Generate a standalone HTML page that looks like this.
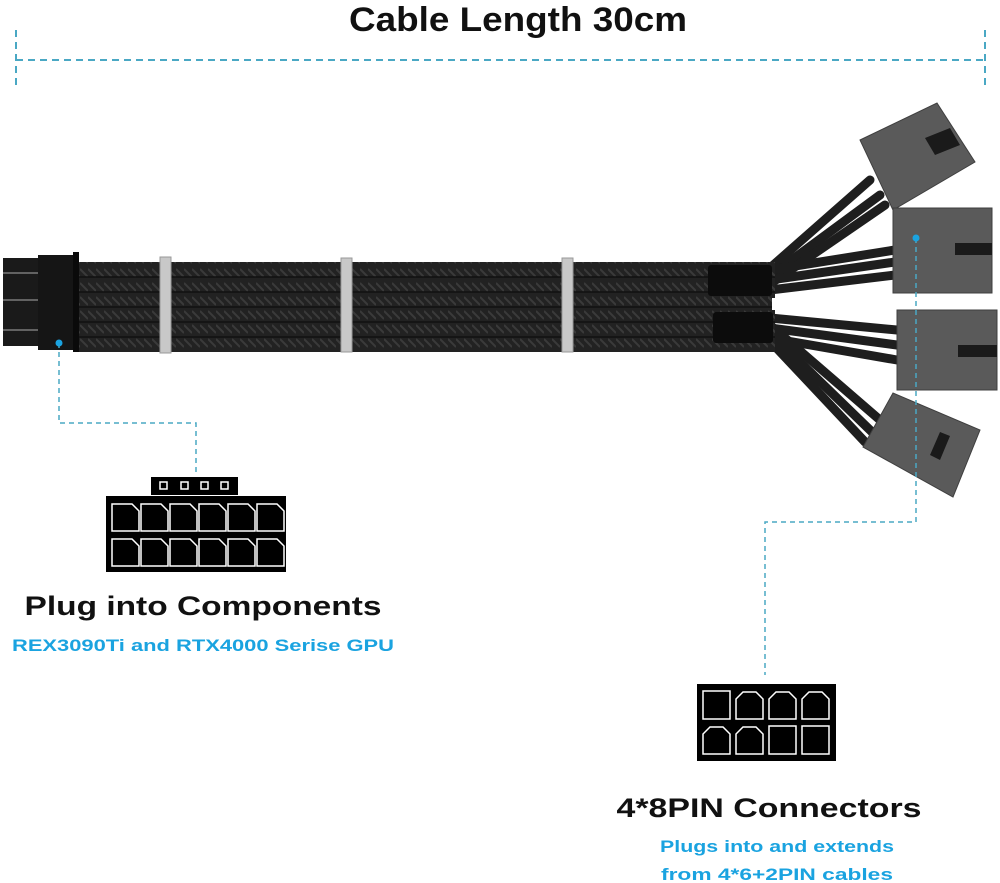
<!DOCTYPE html>
<html><head><meta charset="utf-8"><style>
html,body{margin:0;padding:0;background:#fff;}
svg{display:block}
</style></head><body>
<svg width="1000" height="883" viewBox="0 0 1000 883" xmlns="http://www.w3.org/2000/svg">
<defs>
<pattern id="braid" width="8" height="14" patternUnits="userSpaceOnUse">
<rect width="8" height="14" fill="#222"/>
<path d="M0 3 L8 11" stroke="#3a3a3a" stroke-width="2"/>
</pattern>
</defs>
<text x="518" y="31" text-anchor="middle" font-family="Liberation Sans, sans-serif" font-weight="bold" font-size="34" textLength="338" lengthAdjust="spacingAndGlyphs" fill="#111">Cable Length 30cm</text>
<g stroke="#4aa8c4" stroke-width="2" stroke-dasharray="7,5" fill="none">
<line x1="16" y1="60" x2="985" y2="60"/>
<line x1="16" y1="30" x2="16" y2="88"/>
<line x1="985" y1="30" x2="985" y2="88"/>
</g>
<g stroke="#1e1e1e" stroke-width="9" stroke-linecap="round" fill="none">
<path d="M770 268 L870 180"/><path d="M770 276 L880 195"/><path d="M770 284 L885 205"/>
<path d="M770 270 L895 250"/><path d="M770 280 L895 262"/><path d="M770 290 L895 275"/>
<path d="M770 318 L897 330"/><path d="M770 328 L897 345"/><path d="M770 338 L897 360"/>
<path d="M770 325 L880 420"/><path d="M770 333 L872 432"/><path d="M770 341 L865 442"/>
</g>
<rect x="75" y="262" width="700" height="90" fill="url(#braid)"/>
<g stroke="#111" stroke-width="1.5">
<line x1="75" y1="277" x2="775" y2="277"/><line x1="75" y1="292" x2="775" y2="292"/>
<line x1="75" y1="307" x2="775" y2="307"/><line x1="75" y1="322" x2="775" y2="322"/>
<line x1="75" y1="337" x2="775" y2="337"/>
</g>
<rect x="708" y="265" width="64" height="31" fill="#0c0c0c" rx="3"/>
<rect x="713" y="312" width="60" height="31" fill="#0c0c0c" rx="3"/>
<rect x="772" y="298" width="120" height="12" fill="#fff"/>
<rect x="160" y="257" width="11" height="96" fill="#c8c8c8" stroke="#999"/>
<rect x="341" y="258" width="11" height="94" fill="#c8c8c8" stroke="#999"/>
<rect x="562" y="258" width="11" height="94" fill="#c8c8c8" stroke="#999"/>
<rect x="3" y="258" width="40" height="88" fill="#1a1a1a"/>
<line x1="3" y1="273" x2="38" y2="273" stroke="#aaa"/><line x1="3" y1="300" x2="38" y2="300" stroke="#aaa"/><line x1="3" y1="330" x2="38" y2="330" stroke="#aaa"/>
<rect x="38" y="255" width="35" height="95" fill="#151515"/>
<rect x="73" y="252" width="6" height="100" fill="#0a0a0a"/>
<g fill="#5a5a5a" stroke="#3f3f3f">
<polygon points="860,140 937,103 975,162 893,210"/>
<rect x="893" y="208" width="99" height="85"/>
<rect x="897" y="310" width="100" height="80"/>
<polygon points="863,447 893,393 980,430 953,497"/>
</g>
<g fill="#1a1a1a">
<polygon points="925,138 950,128 960,145 935,155"/>
<rect x="955" y="243" width="37" height="12"/>
<rect x="958" y="345" width="39" height="12"/>
<polygon points="930,455 940,432 950,436 940,460"/>
</g>
<g stroke="#4aa8c4" stroke-width="1.5" stroke-dasharray="5,4" fill="none">
<polyline points="59,343 59,423 196,423 196,475"/>
<polyline points="916,238 916,522 765,522 765,675"/>
</g>
<circle cx="59" cy="343" r="3.5" fill="#1aa3e0"/>
<circle cx="916" cy="238" r="3.5" fill="#1aa3e0"/>
<rect x="151" y="477" width="87" height="18" fill="#000"/>
<g fill="none" stroke="#fff" stroke-width="1.5">
<rect x="160" y="482" width="7" height="7"/><rect x="181" y="482" width="7" height="7"/><rect x="201" y="482" width="7" height="7"/><rect x="221" y="482" width="7" height="7"/>
</g>
<rect x="106" y="496" width="180" height="76" fill="#000"/>
<g fill="none" stroke="#fff" stroke-width="1.5">
<path d="M112 504 h20 l7 7 v20 h-27 z"/><path d="M141 504 h20 l7 7 v20 h-27 z"/><path d="M170 504 h20 l7 7 v20 h-27 z"/><path d="M199 504 h20 l7 7 v20 h-27 z"/><path d="M228 504 h20 l7 7 v20 h-27 z"/><path d="M257 504 h20 l7 7 v20 h-27 z"/>
<path d="M112 539 h20 l7 7 v20 h-27 z"/><path d="M141 539 h20 l7 7 v20 h-27 z"/><path d="M170 539 h20 l7 7 v20 h-27 z"/><path d="M199 539 h20 l7 7 v20 h-27 z"/><path d="M228 539 h20 l7 7 v20 h-27 z"/><path d="M257 539 h20 l7 7 v20 h-27 z"/>
</g>
<rect x="697" y="684" width="139" height="77" fill="#000"/>
<g fill="none" stroke="#fff" stroke-width="1.5">
<rect x="703" y="691" width="27" height="28"/>
<path d="M736 719 v-20 l7 -7 h13 l7 7 v20 z"/><path d="M769 719 v-20 l7 -7 h13 l7 7 v20 z"/><path d="M802 719 v-20 l7 -7 h13 l7 7 v20 z"/>
<path d="M703 754 v-20 l7 -7 h13 l7 7 v20 z"/><path d="M736 754 v-20 l7 -7 h13 l7 7 v20 z"/>
<rect x="769" y="726" width="27" height="28"/><rect x="802" y="726" width="27" height="28"/>
</g>
<text x="203" y="615" text-anchor="middle" font-family="Liberation Sans, sans-serif" font-weight="bold" font-size="27" textLength="357" lengthAdjust="spacingAndGlyphs" fill="#111">Plug into Components</text>
<text x="203" y="651" text-anchor="middle" font-family="Liberation Sans, sans-serif" font-weight="bold" font-size="17" textLength="382" lengthAdjust="spacingAndGlyphs" fill="#1aa3e0">REX3090Ti and RTX4000 Serise GPU</text>
<text x="769" y="817" text-anchor="middle" font-family="Liberation Sans, sans-serif" font-weight="bold" font-size="27" textLength="305" lengthAdjust="spacingAndGlyphs" fill="#111">4*8PIN Connectors</text>
<text x="777" y="852" text-anchor="middle" font-family="Liberation Sans, sans-serif" font-weight="bold" font-size="17" textLength="234" lengthAdjust="spacingAndGlyphs" fill="#1aa3e0">Plugs into and extends</text>
<text x="777" y="880" text-anchor="middle" font-family="Liberation Sans, sans-serif" font-weight="bold" font-size="17" textLength="232" lengthAdjust="spacingAndGlyphs" fill="#1aa3e0">from 4*6+2PIN cables</text>
</svg>
</body></html>
